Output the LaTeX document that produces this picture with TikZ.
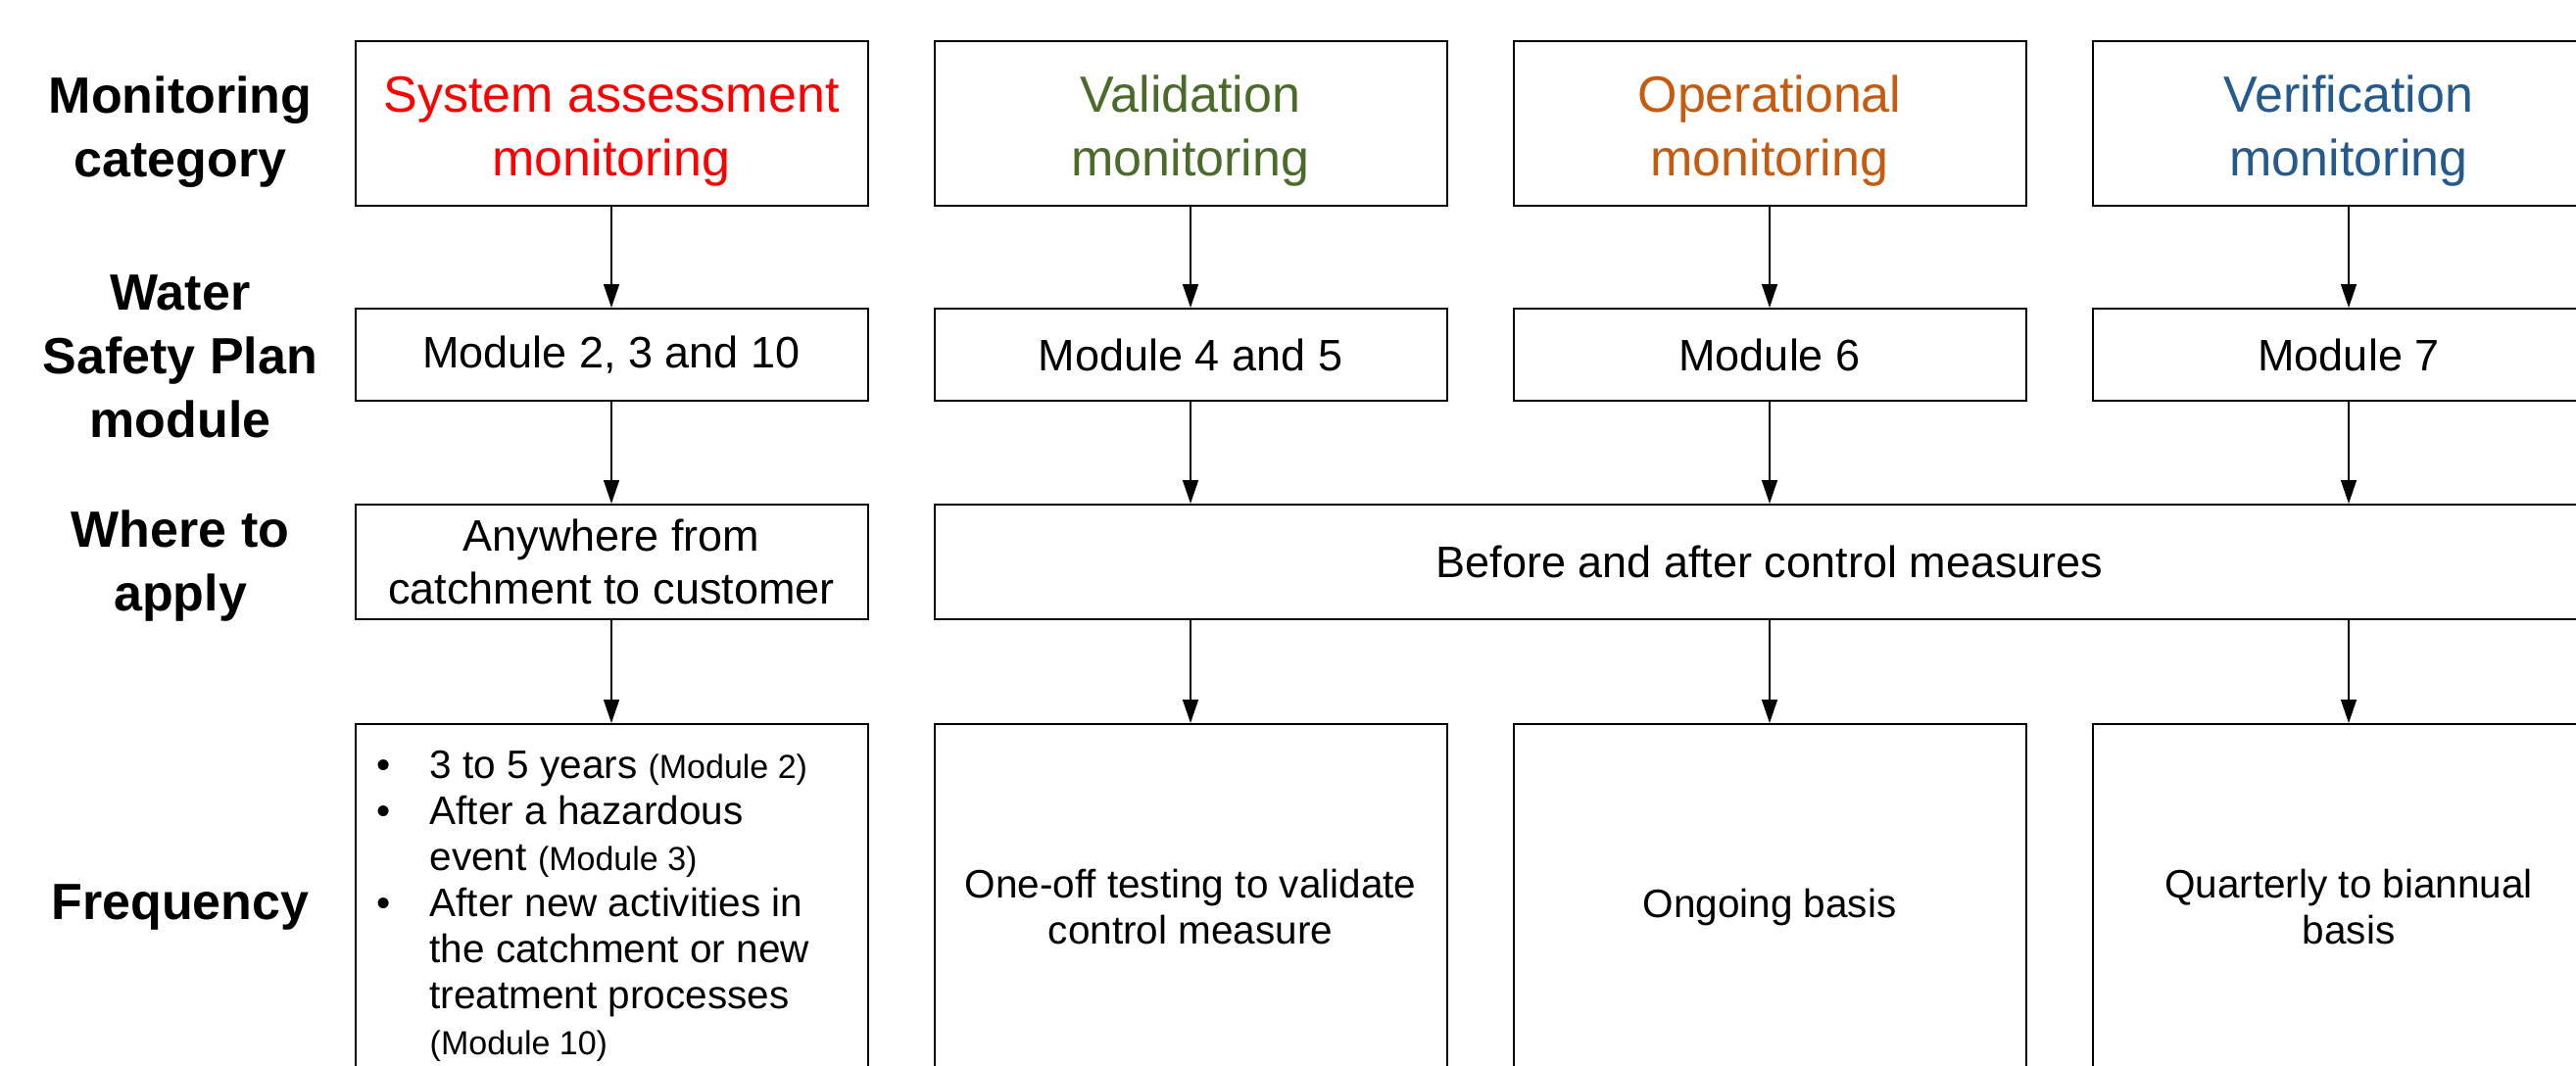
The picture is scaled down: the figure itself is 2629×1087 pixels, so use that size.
\documentclass[tikz,border=0pt]{standalone}
\usepackage{fontspec}
\setmainfont{Liberation Sans}
\usetikzlibrary{arrows.meta}
\definecolor{sysred}{HTML}{FF0000}
\definecolor{valgreen}{HTML}{4A6B2A}
\definecolor{oporange}{HTML}{C55A11}
\definecolor{verblue}{HTML}{245A8D}
\newcommand\catfont{\fontsize{52}{65}\selectfont}
\newcommand\midfont{\fontsize{45}{54}\selectfont}
\newcommand\freqfont{\fontsize{40.5}{47}\selectfont}
\newcommand\modnote[1]{{\fontsize{34}{47}\selectfont #1}}
\tikzset{
  rowlabel/.style={font=\catfont\bfseries, align=center, inner sep=0pt},
  box/.style={draw, line width=2pt, minimum width=523pt, inner sep=0pt, align=center},
  catbox/.style={box, minimum height=168pt},
  modbox/.style={box, minimum height=94pt, font=\midfont},
  wherebox/.style={box, minimum height=117pt, font=\midfont},
  freqbox/.style={box, minimum height=366pt},
  cattext/.style={font=\catfont, align=center, inner sep=0pt},
  freqtext/.style={font=\freqfont, align=center, inner sep=0pt},
  arr/.style={line width=1.5pt, -{Triangle[length=24pt,width=16pt]}}
}
\begin{document}
\begin{tikzpicture}[x=1pt,y=-1pt]
\useasboundingbox (0,0) rectangle (2629,1087);
\clip (0,0) rectangle (2629,1087);
\fill[white] (0,0) rectangle (2629,1087);

% row labels
\node[rowlabel] (lcat) at (184,135) {Monitoring\\category};
\node[rowlabel] (lmod) at (184,364) {Water\\Safety Plan\\module};
\node[rowlabel] (lwhere) at (184,578) {Where to\\apply};
\node[rowlabel] (lfreq) at (184,926) {Frequency};

% monitoring categories (frames, then their titles set slightly low)
\node[catbox] (c1) at (624,126) {};
\node[catbox] (c2) at (1215,126) {};
\node[catbox] (c3) at (1806,126) {};
\node[catbox] (c4) at (2397,126) {};
\node[cattext, text=sysred] (t1) at (624,134) {System assessment\\monitoring};
\node[cattext, text=valgreen] (t2) at (1215,134) {Validation\\monitoring};
\node[cattext, text=oporange] (t3) at (1806,134) {Operational\\monitoring};
\node[cattext, text=verblue] (t4) at (2397,134) {Verification\\monitoring};

% plan modules
\node[modbox] (m1) at (624,362) {Module 2, 3 and 10};
\node[modbox] (m2) at (1215,362) {Module 4 and 5};
\node[modbox] (m3) at (1806,362) {Module 6};
\node[modbox] (m4) at (2397,362) {Module 7};

% where to apply
\node[wherebox] (w1) at (624,573.5) {Anywhere from\\catchment to customer};
\node[wherebox, minimum width=1705pt] (w2) at (1806,573.5) {Before and after control measures};

% frequency
\node[freqbox] (f1) at (624,922) {};
\node[freqbox] (f2) at (1215,922) {};
\node[freqbox] (f3) at (1806,922) {};
\node[freqbox] (f4) at (2397,922) {};
\node[freqtext] (f2text) at (1215,926) {One-off testing to validate\\control measure};
\node[freqtext] (f3text) at (1806,926) {Ongoing basis};
\node[freqtext] (f4text) at (2397,926) {Quarterly to biannual\\basis};
\node[anchor=west, inner sep=0pt, font=\freqfont] (f1text) at ([xshift=23pt,yshift=-4pt]f1.west) {%
  \begin{tabular}{@{}p{54pt}@{}l@{}}
  \textbullet & 3 to 5 years \modnote{(Module 2)}\\
  \textbullet & After a hazardous\\
              & event \modnote{(Module 3)}\\
  \textbullet & After new activities in\\
              & the catchment or new\\
              & treatment processes\\
              & \modnote{(Module 10)}
  \end{tabular}};

% connectors
\foreach \i in {1,2,3,4} {
  \draw[arr] (c\i.south) -- (m\i.north);
}
\draw[arr] (m1.south) -- (w1.north);
\draw[arr] (m2.south) -- (m2.south |- w2.north);
\draw[arr] (m3.south) -- (m3.south |- w2.north);
\draw[arr] (m4.south) -- (m4.south |- w2.north);
\draw[arr] (w1.south) -- (f1.north);
\draw[arr] (f2.north |- w2.south) -- (f2.north);
\draw[arr] (f3.north |- w2.south) -- (f3.north);
\draw[arr] (f4.north |- w2.south) -- (f4.north);
\end{tikzpicture}
\end{document}
